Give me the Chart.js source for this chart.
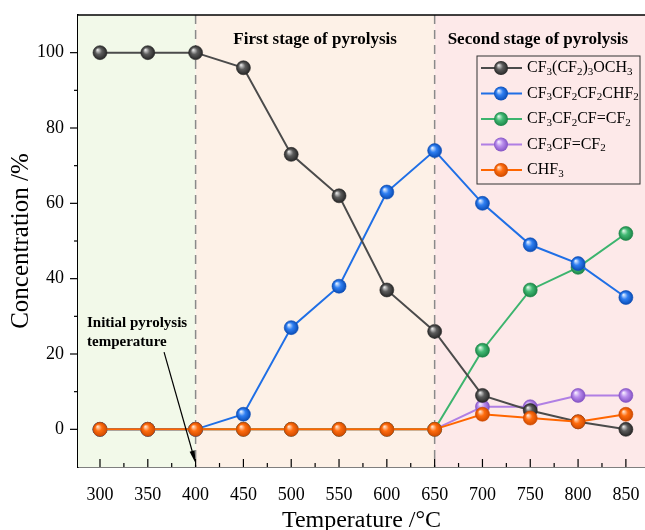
<!DOCTYPE html>
<html>
<head>
<meta charset="utf-8">
<script src="https://cdn.jsdelivr.net/npm/chart.js@4.4.0/dist/chart.umd.min.js"></script>
<style>
html, body { margin: 0; padding: 0; background: #fff; }
</style>
</head>
<body>
<canvas id="mycanvas" width="645" height="530"></canvas>
<script>
// data
var temperature = [300, 350, 400, 450, 500, 550, 600, 650, 700, 750, 800, 850];
var etherConc   = [100, 100, 100, 96, 73, 62, 37, 26, 9, 5, 2, 0];
var hfcConc     = [0, 0, 0, 4, 27, 38, 63, 74, 60, 49, 44, 35];
var buteneConc  = [0, 0, 0, 0, 0, 0, 0, 0, 21, 37, 43, 52];
var propeneConc = [0, 0, 0, 0, 0, 0, 0, 0, 6, 6, 9, 9];
var chf3Conc    = [0, 0, 0, 0, 0, 0, 0, 0, 4, 3, 2, 4];
var seriesNames = ["CF3(CF2)3OCH3", "CF3CF2CF2CHF2", "CF3CF2CF=CF2", "CF3CF=CF2", "CHF3"];
var xTicks = [300, 350, 400, 450, 500, 550, 600, 650, 700, 750, 800, 850];
var yTicks = [0, 20, 40, 60, 80, 100];
var stageBounds = [400, 650];

var colors = [
    {line: "#4b4b4b", light: "#e4e4e4", mid: "#5c5c5c", dark: "#262626"},
    {line: "#1f6fe6", light: "#e0edff", mid: "#2f7ff2", dark: "#0a4cb5"},
    {line: "#3cb46e", light: "#dcf6e5", mid: "#43ba75", dark: "#1b8447"},
    {line: "#b07fe4", light: "#f6eeff", mid: "#b98ded", dark: "#8453c4"},
    {line: "#ff6600", light: "#ffe2cc", mid: "#ff6d0f", dark: "#cf4a00"}
];

var serif = "'Liberation Serif', 'Times New Roman', serif";

function sphereFill(ctx, x, y, r, c) {
    if (!isFinite(x) || !isFinite(y)) return c.mid;
    var g = ctx.createRadialGradient(x - r * 0.35, y - r * 0.4, r * 0.05, x, y, r);
    g.addColorStop(0, c.light);
    g.addColorStop(0.45, c.mid);
    g.addColorStop(1, c.dark);
    return g;
}

function makeSet(values, idx, order) {
    var pts = [];
    for (var i in temperature) {
        pts.push({x: temperature[i], y: values[i]});
    }
    var c = colors[idx];
    return {
        label: seriesNames[idx],
        data: pts,
        order: order,
        borderColor: c.line,
        borderWidth: 2,
        pointRadius: 7,
        pointBorderWidth: 0.6,
        pointBorderColor: c.dark,
        pointBackgroundColor: function(context) {
            if (context.type !== "data") return c.mid;
            var ch = context.chart;
            if (!ch.scales || !ch.scales.x || !ch.scales.y) return c.mid;
            var px = ch.scales.x.getPixelForValue(context.raw.x);
            var py = ch.scales.y.getPixelForValue(context.raw.y);
            return sphereFill(ch.ctx, px, py, 7, c);
        }
    };
}

// subscript every digit of a formula
function drawFormula(ctx, text, x, y) {
    var xx = x;
    for (var i = 0; i < text.length; i++) {
        var ch = text[i];
        if (ch >= "0" && ch <= "9") {
            ctx.font = "11px " + serif;
            ctx.fillText(ch, xx, y + 4);
        } else {
            ctx.font = "16px " + serif;
            ctx.fillText(ch, xx, y);
        }
        xx += ctx.measureText(ch).width;
    }
}

var decorPlugin = {
    id: "decor",
    beforeDatasetsDraw: function(chart) {
        var ctx = chart.ctx, a = chart.chartArea;
        var xs = chart.scales.x;
        var b1 = xs.getPixelForValue(stageBounds[0]);
        var b2 = xs.getPixelForValue(stageBounds[1]);
        ctx.save();
        ctx.fillStyle = "#f2f9e9";
        ctx.fillRect(a.left, a.top, b1 - a.left, a.bottom - a.top);
        ctx.fillStyle = "#fdf1e7";
        ctx.fillRect(b1, a.top, b2 - b1, a.bottom - a.top);
        ctx.fillStyle = "#fde9e9";
        ctx.fillRect(b2, a.top, a.right - b2, a.bottom - a.top);

        ctx.strokeStyle = "#8a8a8a";
        ctx.lineWidth = 1.5;
        ctx.setLineDash([9, 6]);
        [b1, b2].forEach(function(bx) {
            ctx.beginPath();
            ctx.moveTo(bx, a.top);
            ctx.lineTo(bx, a.bottom);
            ctx.stroke();
        });
        ctx.setLineDash([]);

        // stage titles
        ctx.fillStyle = "#000";
        ctx.font = "bold 17px " + serif;
        ctx.textAlign = "center";
        ctx.textBaseline = "middle";
        ctx.fillText("First stage of pyrolysis", xs.getPixelForValue(525), 40);
        ctx.fillText("Second stage of pyrolysis", xs.getPixelForValue(758), 40);
        ctx.restore();
    },
    afterDatasetsDraw: function(chart) {
        var ctx = chart.ctx, a = chart.chartArea;
        var xs = chart.scales.x, ys = chart.scales.y;
        ctx.save();

        // legend box
        var lx = a.right - 168, ly = a.top + 41, lw = 163, lh = 128;
        ctx.fillStyle = "#fde9e9";
        ctx.fillRect(lx, ly, lw, lh);
        ctx.strokeStyle = "#333";
        ctx.lineWidth = 1;
        ctx.strokeRect(lx, ly, lw, lh);
        for (var i = 0; i < seriesNames.length; i++) {
            var c = colors[i];
            var ry = ly + 12 + i * 25.5;
            ctx.strokeStyle = c.line;
            ctx.lineWidth = 2;
            ctx.beginPath();
            ctx.moveTo(lx + 4, ry);
            ctx.lineTo(lx + 45, ry);
            ctx.stroke();
            ctx.beginPath();
            ctx.arc(lx + 24, ry, 7, 0, Math.PI * 2);
            ctx.fillStyle = sphereFill(ctx, lx + 24, ry, 7, c);
            ctx.fill();
            ctx.fillStyle = "#000";
            ctx.textAlign = "left";
            ctx.textBaseline = "middle";
            drawFormula(ctx, seriesNames[i], lx + 50, ry);
        }

        // annotation
        ctx.fillStyle = "#000";
        ctx.font = "bold 15px " + serif;
        ctx.textAlign = "left";
        ctx.textBaseline = "alphabetic";
        ctx.fillText("Initial pyrolysis", a.left + 9, 327);
        ctx.fillText("temperature", a.left + 9, 346);

        var x0 = xs.getPixelForValue(367), y0 = ys.getPixelForValue(20.5);
        var x1 = xs.getPixelForValue(400), y1 = ys.getPixelForValue(-9);
        var ang = Math.atan2(y1 - y0, x1 - x0);
        ctx.strokeStyle = "#000";
        ctx.lineWidth = 1.2;
        ctx.beginPath();
        ctx.moveTo(x0, y0);
        ctx.lineTo(x1 - 8 * Math.cos(ang), y1 - 8 * Math.sin(ang));
        ctx.stroke();
        ctx.beginPath();
        ctx.moveTo(x1, y1);
        ctx.lineTo(x1 - 13 * Math.cos(ang - 0.2), y1 - 13 * Math.sin(ang - 0.2));
        ctx.lineTo(x1 - 13 * Math.cos(ang + 0.2), y1 - 13 * Math.sin(ang + 0.2));
        ctx.closePath();
        ctx.fill();
        ctx.restore();
    },
    afterDraw: function(chart) {
        var ctx = chart.ctx, a = chart.chartArea;
        var xs = chart.scales.x, ys = chart.scales.y;
        ctx.save();
        ctx.strokeStyle = "#000";
        ctx.lineWidth = 1.5;
        // top frame line
        ctx.beginPath();
        ctx.moveTo(a.left, a.top);
        ctx.lineTo(a.right, a.top);
        ctx.stroke();
        ctx.lineWidth = 1.2;
        // x ticks point inward
        for (var v = 300; v <= 850; v += 25) {
            var px = xs.getPixelForValue(v);
            var len = (v % 50 === 0) ? 8 : 4;
            ctx.beginPath();
            ctx.moveTo(px, a.bottom);
            ctx.lineTo(px, a.bottom - len);
            ctx.stroke();
        }
        // y ticks point outward
        for (var w = 0; w <= 100; w += 10) {
            var py = ys.getPixelForValue(w);
            var l2 = (w % 20 === 0) ? 8 : 4;
            ctx.beginPath();
            ctx.moveTo(a.left, py);
            ctx.lineTo(a.left - l2, py);
            ctx.stroke();
        }
        ctx.restore();
    }
};

var ctx = document.getElementById("mycanvas");

var chart = new Chart(ctx, {
    type: "line",
    data: {
        datasets: [
            makeSet(etherConc, 0, 1),
            makeSet(hfcConc, 1, 2),
            makeSet(buteneConc, 2, 3),
            makeSet(propeneConc, 3, 4),
            makeSet(chf3Conc, 4, 0)
        ]
    },
    options: {
        responsive: false,
        animation: false,
        devicePixelRatio: 1,
        layout: {autoPadding: false, padding: {top: 15, right: 0, left: 0, bottom: 0}},
        plugins: {
            legend: {display: false},
            tooltip: {enabled: false}
        },
        scales: {
            x: {
                type: "linear",
                min: 277,
                max: 870,
                afterBuildTicks: function(scale) {
                    scale.ticks = xTicks.map(function(v) { return {value: v}; });
                },
                afterFit: function(scale) {
                    scale.height = 63;
                    scale.paddingLeft = 0;
                    scale.paddingRight = 0;
                },
                grid: {drawOnChartArea: false, drawTicks: true, tickLength: 17, tickColor: "rgba(0,0,0,0)"},
                border: {display: true, color: "#000", width: 1.5},
                ticks: {
                    color: "#000",
                    padding: 0,
                    maxRotation: 0,
                    font: {family: serif, size: 18}
                },
                title: {
                    display: true,
                    text: "Temperature /°C",
                    color: "#000",
                    padding: {top: 0, bottom: -5},
                    font: {family: serif, size: 24}
                }
            },
            y: {
                min: -10,
                max: 110,
                afterBuildTicks: function(scale) {
                    scale.ticks = yTicks.map(function(v) { return {value: v}; });
                },
                afterFit: function(scale) {
                    scale.width = 78;
                    scale.paddingTop = 0;
                    scale.paddingBottom = 0;
                },
                grid: {drawOnChartArea: false, drawTicks: true, tickLength: 14, tickColor: "rgba(0,0,0,0)"},
                border: {display: true, color: "#000", width: 1.5},
                ticks: {
                    color: "#000",
                    padding: 0,
                    font: {family: serif, size: 18}
                },
                title: {
                    display: true,
                    text: "Concentration /%",
                    color: "#000",
                    padding: {top: 6, bottom: 0},
                    font: {family: serif, size: 25}
                }
            }
        }
    },
    plugins: [decorPlugin]
});
</script>
</body>
</html>
